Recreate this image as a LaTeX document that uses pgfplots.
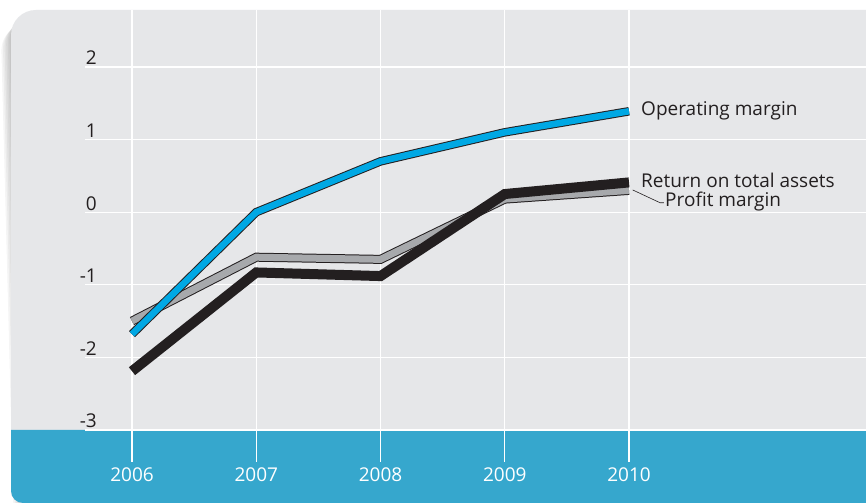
\documentclass[border=0pt]{standalone}
\usepackage{fontspec}
\setmainfont{Open Sans}
\usepackage{pgfplots}
\pgfplotsset{compat=1.18}
\definecolor{panel}{RGB}{230,231,233}
\definecolor{band}{RGB}{54,167,205}
\definecolor{opblue}{RGB}{0,168,228}
\definecolor{pmgray}{RGB}{167,169,172}
\definecolor{ink}{RGB}{35,31,32}
\newcommand\lab{\fontsize{19bp}{22bp}\selectfont}

\begin{document}
\begin{tikzpicture}[x=1bp,y=1bp]
\useasboundingbox (0,0) rectangle (866,503);
\fill[white] (0,0) rectangle (866,503);
% soft shadow on the left
\foreach \s in {1,...,6}{
  \fill[black, opacity=0.04] (900,-5) -- (23-1.6*\s,-5) -- (11-1.6*\s,465-2*\s)
    arc[start angle=180, end angle=90, radius=25] -- (900,490-2*\s) -- cycle;
}
% panel and band
\fill[panel] (900,0) -- (23,0) arc[start angle=270, end angle=180, radius=12]
  -- (11,468) arc[start angle=180, end angle=90, radius=25] -- (900,493) -- cycle;
\fill[band] (900,0) -- (23,0) arc[start angle=270, end angle=180, radius=12]
  -- (11,73) -- (900,73) -- cycle;

\begin{axis}[
    at={(85bp,41bp)}, anchor=south west,
    scale only axis,
    width=781bp, height=452bp,
    xmin=2005.6217, xmax=2011.9074,
    ymin=-3.4408, ymax=2.785,
    axis line style={draw=none},
    major tick length=0pt,
    xtick={2006,2007,2008,2009,2010},
    xticklabels={2006,2007,2008,2009,2010},
    ytick={-3,-2,-1,0,1,2},
    yticklabels={-3,-2,-1,0,1,2},
    grid=major,
    grid style={white, line width=1.3bp},
    xticklabel style={font=\lab, text=white, anchor=center, inner sep=0pt, yshift=-13bp},
    yticklabel style={font=\lab, text=ink, anchor=base east, inner sep=0pt, xshift=12bp, yshift=2bp},
    clip=false,
]
% Profit margin (grey with dark outline)
\addplot[ink, line width=9bp, line cap=butt, line join=miter] coordinates {
  (2006,-1.50) (2007,-0.62) (2008,-0.65) (2009,0.18) (2010,0.30)};
\addplot[pmgray, line width=7bp, line cap=butt, line join=miter] coordinates {
  (2006,-1.50) (2007,-0.62) (2008,-0.65) (2009,0.18) (2010,0.30)};
% Return on total assets
\addplot[ink, line width=10bp, line cap=butt, line join=miter] coordinates {
  (2006,-2.19) (2007,-0.83) (2008,-0.88) (2009,0.25) (2010,0.41)};
% Operating margin
\addplot[ink, line width=8.5bp, line cap=butt, line join=miter] coordinates {
  (2006,-1.68) (2007,0.00) (2008,0.70) (2009,1.10) (2010,1.39)};
\addplot[opblue, line width=6.5bp, line cap=butt, line join=miter] coordinates {
  (2006,-1.68) (2007,0.00) (2008,0.70) (2009,1.10) (2010,1.39)};

\node[anchor=west, font=\lab, text=ink, inner sep=0pt, xshift=12bp] at (axis cs:2010,1.39) {Operating margin};
\node[anchor=west, font=\lab, text=ink, inner sep=0pt, xshift=12bp] at (axis cs:2010,0.44) {Return on total assets};
\node[anchor=west, font=\lab, text=ink, inner sep=0pt, xshift=36bp] at (axis cs:2010,0.15) {Profit margin};
\draw[ink, line width=0.6bp] (axis cs:2010.03,0.306) -- (axis cs:2010.25,0.13) -- (axis cs:2010.28,0.13);
\end{axis}
\end{tikzpicture}
\end{document}
